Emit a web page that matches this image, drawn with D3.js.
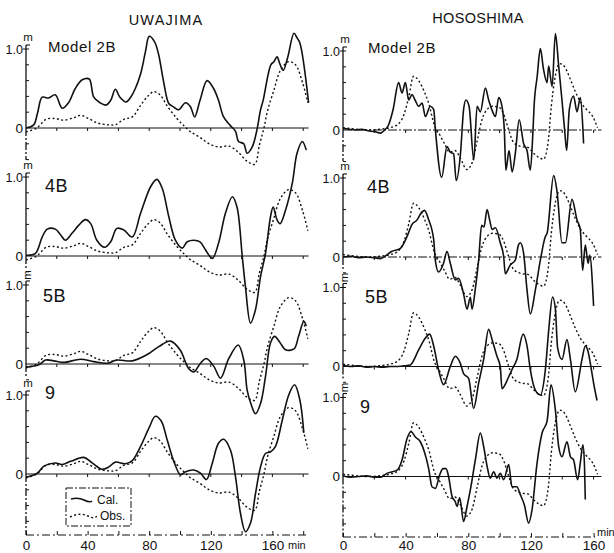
<!DOCTYPE html>
<html>
<head>
<meta charset="utf-8">
<script src="https://cdn.jsdelivr.net/npm/d3@7"></script>
<style>
  html, body { margin: 0; padding: 0; background: #fff; }
  svg { display: block; font-family: "Liberation Sans", Arial, sans-serif; }
</style>
</head>
<body>
<svg id="chart" width="614" height="553"></svg>
<script>
// Tide gauge records: [minutes, metres]
const stations = ["UWAJIMA", "HOSOSHIMA"];
const models = ["Model 2B", "4B", "5B", "9"];
const bottomTicks = [0, 40, 80, 120, 160];
const legendLabels = ["Cal.", "Obs."];

// Observed record at Uwajima (same in every model panel)
const uwaObs = [[0,-0.05],[7,0],[13,0.11],[19,0.12],[24.5,0.1],[31,0.13],[35.5,0.16],[40.5,0.12],[47,0.06],[54,0.04],[58,0.04],[63.5,0.11],[69,0.14],[74.5,0.29],[79.5,0.41],[83,0.46],[87,0.42],[92,0.27],[98,0.12],[103,0.02],[107,-0.05],[113,-0.12],[119,-0.2],[125,-0.24],[132,-0.23],[138,-0.31],[143.5,-0.42],[148.5,-0.46],[151.5,-0.22],[154.5,0],[157,0.23],[161,0.48],[165,0.72],[170.5,0.84],[175,0.8],[179.5,0.58],[183,0.32]];

// Computed records at Uwajima
const uwaCal2B = [[0,0],[5,0.04],[7.5,0.19],[10.5,0.39],[14.6,0.38],[19,0.42],[23.5,0.25],[27.6,0.32],[32,0.5],[36.5,0.61],[41,0.62],[44,0.39],[48,0.32],[52,0.29],[55,0.35],[58,0.49],[61,0.39],[65,0.33],[68,0.39],[71,0.5],[74.5,0.69],[77.6,0.97],[80,1.16],[83.5,1.09],[86,0.94],[89.5,0.57],[92.7,0.31],[95.6,0.27],[99,0.23],[103.6,0.32],[106.8,0.27],[109.5,0.14],[113,0.35],[117.6,0.6],[121.8,0.5],[125,0.35],[128.3,0.14],[132.7,0.03],[136,-0.04],[138,-0.17],[141.4,-0.2],[143.6,-0.32],[146.9,-0.24],[150,-0.02],[152.3,0.23],[154,0.35],[159,0.8],[161,0.84],[163,0.9],[164.7,0.82],[167,0.73],[170,0.9],[174,1.2],[176,1.14],[177.8,1.08],[183.5,0.32]];
const uwaCal4B = [[0,0.01],[6,0.03],[10.5,0.24],[13.8,0.34],[19,0.34],[22.4,0.27],[25.6,0.2],[30,0.29],[34.3,0.39],[38.6,0.46],[42,0.41],[46,0.2],[51,0.11],[55,0.18],[59,0.35],[63.5,0.33],[69,0.24],[74.4,0.54],[81,0.88],[85,0.97],[88.4,0.86],[92.7,0.5],[97,0.2],[101.4,0.1],[104.7,0.18],[109,0.2],[113,0.18],[116.5,0.08],[121,-0.03],[125,0.16],[129.5,0.54],[134,0.75],[137,0.62],[140.4,0],[142.5,-0.39],[145.8,-0.85],[149,-0.68],[152.3,-0.26],[155.5,0.03],[158.8,0.5],[160.5,0.62],[163,0.46],[165,0.41],[168.5,0.58],[172.9,0.92],[176,1.3],[179.4,1.45],[182,1.34]];
const uwaCal5B = [[0,-0.04],[8.3,-0.01],[12.7,0.05],[18,0.04],[24.5,0.02],[35.4,0.06],[44,0.03],[52.7,0.01],[59,0.05],[69,0.04],[78.7,0.12],[86.2,0.22],[93.8,0.29],[100,0.18],[105.7,-0.06],[109,-0.1],[113.3,0.01],[117,0.07],[122,-0.03],[126.3,-0.18],[131.7,0.07],[137.8,0.24],[141.4,0.05],[143.6,-0.33],[146,-0.5],[149,-0.63],[152.3,-0.5],[155.5,-0.16],[158.8,0.27],[161.4,0.35],[165,0.27],[168.5,0.18],[174,0.19],[177,0.35],[180.4,0.54],[182,0.48]];
const uwaCal9 = [[0,-0.04],[7.3,0.01],[11.6,0.1],[19,0.14],[23.5,0.12],[29,0.16],[37.5,0.21],[43,0.14],[49.5,0.06],[53.8,0.09],[58,0.15],[64.6,0.13],[69,0.17],[74.4,0.35],[79.8,0.58],[84,0.73],[87.8,0.67],[91.7,0.43],[96,0.16],[100.3,-0.01],[103.6,0.03],[109,0.05],[113.3,0.01],[117.2,-0.07],[121,0.14],[125,0.39],[128.4,0.44],[132.8,0.3],[136,-0.03],[139.3,-0.5],[142.5,-0.73],[145.8,-0.62],[149,-0.25],[152.3,0.09],[155.5,0.26],[158.8,0.28],[162,0.35],[166.4,0.68],[170.6,1.0],[174.4,1.13],[177.8,0.94],[180.4,0.52]];

// Observed record at Hososhima (same in every model panel)
const hosObs = [[0,0.03],[8,0.01],[16,0],[24,0.01],[30,0.03],[35,0.07],[39,0.2],[42,0.42],[45,0.68],[48.5,0.62],[52,0.48],[55,0.32],[58,0.08],[62,-0.07],[65,-0.18],[68,-0.28],[71.5,-0.26],[75,-0.36],[79,-0.5],[82.5,-0.41],[85.6,-0.14],[89,0.15],[92,0.26],[95.5,0.3],[99.5,0.29],[102.6,0.2],[105.5,0.02],[109,-0.16],[114,-0.21],[118,-0.22],[122,-0.3],[128,-0.37],[131,-0.15],[133,0.3],[135,0.62],[138.5,0.84],[141.5,0.8],[145,0.65],[148,0.5],[151.5,0.36],[155.5,0.26],[159.5,0.17],[162.5,0.03]];

// Computed records at Hososhima
const hosCal2B = [[0,0.02],[4,0.01],[8,0],[12,0.01],[16,-0.01],[20,-0.02],[24,-0.04],[26,-0.01],[29,0.06],[32,0.26],[35.5,0.6],[37.7,0.47],[39.8,0.6],[42,0.38],[44,0.45],[46,0.38],[48.3,0.3],[50.5,0.34],[52.6,0.17],[55.7,0.3],[57.9,0.26],[59,0],[63,-0.6],[66.4,-0.21],[68.5,-0.28],[70.6,-0.3],[72.3,-0.64],[75,-0.3],[77,0.26],[78.5,0.38],[80.5,0.3],[83.5,-0.38],[85.6,0.3],[87.7,0.23],[90.9,0.53],[93,0.38],[95,0.26],[97.3,0.17],[99.4,0.41],[101.5,0.3],[103,0],[104,-0.51],[106,-0.26],[108,-0.53],[110,-0.3],[112.5,0.13],[115.3,-0.17],[117.5,-0.26],[119.6,-0.51],[121.2,-0.05],[122,0.3],[124,0.68],[126,1.03],[128,0.77],[130.3,0.6],[131.3,0.81],[133.5,0.55],[135.6,1.22],[137.7,0.81],[139.8,0.38],[141.5,0],[142.8,-0.26],[144.5,0.26],[147.2,0.43],[149.4,0.23],[151.5,0.41],[153.2,0],[153.6,-0.17]];
const hosCal4B = [[0,0],[5,0.01],[10,-0.01],[15,0],[20,-0.01],[24,-0.02],[26,0],[31,0.07],[36.6,0.11],[40.9,0.26],[44,0.41],[47.3,0.47],[49.4,0.54],[52,0.59],[54.7,0.47],[57.9,0.22],[59,-0.05],[61,-0.19],[64.2,-0.08],[66.4,0.07],[68.5,-0.08],[71.7,-0.29],[73.8,-0.27],[77,-0.47],[79.2,-0.66],[81.3,-0.51],[82.4,-0.66],[84.5,-0.4],[86.6,-0.04],[88.5,0.4],[90,0.38],[92,0.6],[93.5,0.48],[95.2,0.35],[97.3,0.37],[100.4,0.18],[102.6,0],[103.6,-0.21],[106.8,-0.1],[110,-0.04],[112,0.15],[113.2,0.18],[115.3,0.05],[117.5,-0.42],[119.6,-0.72],[122.8,-0.42],[126,-0.04],[129.2,0.26],[130.3,0.3],[134.5,1.03],[136.7,0.82],[139.8,0.18],[142,0.18],[146.2,0.73],[149.4,0.47],[151.5,0.35],[153,-0.17],[154.7,0.15],[156.5,-0.08],[157.5,0.02],[160,-0.62]];
const hosCal5B = [[0,0.02],[5,0],[10,0.01],[15,-0.01],[20,0],[25,-0.01],[30,0],[35,0],[40,0.01],[43,0.02],[48.3,0.21],[52.6,0.36],[55.3,0.41],[57.9,0.26],[61,-0.04],[64.2,-0.23],[68.5,0],[71.7,0.13],[74.9,0.04],[77,-0.09],[80.2,-0.15],[83.4,-0.53],[86.6,-0.21],[89.8,0.09],[93,0.47],[95.2,0.34],[98.3,0.13],[100.4,0],[101.5,-0.28],[105.8,-0.13],[107.9,-0.04],[111,0.09],[115,0.41],[117.5,0.26],[119.6,-0.04],[122.8,-0.3],[126,-0.36],[129.2,-0.04],[131.3,0.45],[133.8,0.88],[135.6,0.73],[137,0.24],[139.8,0.09],[143,0.34],[145.2,0.09],[148.3,-0.32],[152.6,0.09],[154.7,0.26],[156.2,0.21],[159,-0.09],[160,-0.21],[162.2,-0.43]];
const hosCal9 = [[0,0.01],[5,-0.01],[10,0],[15,0.01],[20,-0.01],[24,-0.01],[28,0.04],[34.5,0.08],[37.7,0.21],[40.9,0.48],[43.4,0.57],[46.2,0.5],[49.4,0.44],[52,0.31],[54.7,0.1],[56.8,-0.13],[59,-0.15],[61.7,0.02],[63.9,0.1],[65.8,0.1],[67.4,0],[69.6,-0.25],[71.7,-0.32],[72.8,-0.38],[74.5,-0.27],[77,-0.57],[79.2,-0.38],[81.3,-0.17],[84.5,0.21],[87.7,0.55],[89.8,0.38],[92,0.13],[94,-0.02],[96.2,0.06],[98.3,-0.02],[100.4,0.04],[102.6,-0.04],[105.8,0.15],[107.9,-0.13],[111,-0.13],[113.2,-0.23],[115.8,-0.36],[118.5,-0.59],[120.7,-0.42],[123.9,0.17],[127.1,0.55],[130.3,0.7],[132.8,1.16],[135.6,0.84],[137.7,0.38],[139.8,0.25],[143,0.44],[145.2,0.25],[147.2,0.21],[149.8,-0.04],[151.5,0.17],[153.2,0.4],[154.2,0.13],[154.7,-0.29]];

// ---- layout ----
const svg = d3.select("#chart");
const pxPerMetre = 79;
const columns = [
  { title: stations[0], titleX: 166, titleY: 25, axisX: 26,
    x: d3.scaleLinear().domain([0, 180]).range([26, 303.2]), zeroEnd: 183.5,
    zeros: [128, 256, 364, 474], bottomY: 535, bottomPad: 5, bottomEnd: 182, lastTick: 180,
    calc: [uwaCal2B, uwaCal4B, uwaCal5B, uwaCal9], obs: uwaObs,
    curve: d3.curveCatmullRom.alpha(0.5),
    labelPos: [[48, 52], [45, 192], [43, 302], [45, 399]],
    labelSize: [15, 18, 18, 18], rotatedM: [false, false, true, false],
    zeroDash: [null, null, null, null], negTicks: [2, 1, 1, 3] },
  { title: stations[1], titleX: 478, titleY: 23, axisX: 343,
    x: d3.scaleLinear().domain([0, 160]).range([343, 593.6]), zeroEnd: 165,
    zeros: [130, 257, 366.5, 476.5], bottomY: 537, bottomPad: 3, bottomEnd: 161, lastTick: 160,
    calc: [hosCal2B, hosCal4B, hosCal5B, hosCal9], obs: hosObs,
    curve: d3.curveMonotoneX,
    labelPos: [[368, 53], [367, 193], [365, 303], [360, 413]],
    labelSize: [15, 18, 18, 18], rotatedM: [false, false, true, true],
    zeroDash: ["9,2,2,2", "9,2,2,2", null, null], negTicks: [2, 1, 1, 3] }
];

const ink = "#111";

columns.forEach(col => {
  const g = svg.append("g");
  const x = col.x;

  g.append("text").attr("x", col.titleX).attr("y", col.titleY)
    .attr("text-anchor", "middle").attr("font-size", 14.5)
    .attr("letter-spacing", col.title === "UWAJIMA" ? 1.2 : 0.3)
    .attr("fill", ink).text(col.title);

  col.zeros.forEach((z, i) => {
    const y = d3.scaleLinear().domain([0, 1]).range([z, z - pxPerMetre]);
    const pg = g.append("g");
    const nextTop = i < 3 ? (col.zeros[i + 1] - pxPerMetre) - 17 : col.bottomY;

    // vertical axis: solid above zero, dash-dot below
    pg.append("line").attr("x1", col.axisX).attr("x2", col.axisX)
      .attr("y1", y(1) - 4).attr("y2", y(0))
      .attr("stroke", ink).attr("stroke-width", 1.3);
    pg.append("line").attr("x1", col.axisX).attr("x2", col.axisX)
      .attr("y1", y(0)).attr("y2", nextTop)
      .attr("stroke", ink).attr("stroke-width", 1.3)
      .attr("stroke-dasharray", "8,2,2,2");
    pg.append("line").attr("x1", col.axisX).attr("x2", col.axisX + 4)
      .attr("y1", y(1) - 4).attr("y2", y(1) - 4)
      .attr("stroke", ink).attr("stroke-width", 1.1);

    // 0.2 m ticks
    const ticks = d3.range(-col.negTicks[i], 6).map(k => k * 0.2).filter(v => Math.abs(v) > 1e-6);
    pg.selectAll(".yt").data(ticks).enter().append("line")
      .attr("x1", d => Math.abs(d - 1) < 1e-6 ? col.axisX - 3 : col.axisX)
      .attr("x2", col.axisX + 3)
      .attr("y1", d => y(d)).attr("y2", d => y(d))
      .attr("stroke", ink).attr("stroke-width", 1);

    pg.append("text").attr("x", col.axisX - 3).attr("y", y(1) + 4.5)
      .attr("text-anchor", "end").attr("font-size", 12.5).attr("fill", ink).text("1.0");
    pg.append("text").attr("x", col.axisX - 3).attr("y", y(0) + 4.5)
      .attr("text-anchor", "end").attr("font-size", 13.5).attr("fill", ink).text("0");
    const mx = col.axisX + 2, my = y(1) - 8;
    const m = pg.append("text").attr("font-size", 11.5).attr("fill", ink).text("m");
    if (col.rotatedM[i]) {
      m.attr("text-anchor", "middle").attr("transform", `translate(${mx - 1},${my - 2}) rotate(-90)`).attr("dy", 4);
    } else {
      m.attr("x", mx).attr("y", my).attr("text-anchor", "middle");
    }

    // zero line with 20-minute ticks
    pg.append("line").attr("x1", col.axisX).attr("x2", x(col.zeroEnd))
      .attr("y1", y(0)).attr("y2", y(0))
      .attr("stroke", ink).attr("stroke-width", 1.2)
      .attr("stroke-dasharray", col.zeroDash[i]);
    pg.selectAll(".zt").data(d3.range(20, col.lastTick + 1, 20)).enter().append("line")
      .attr("x1", d => x(d)).attr("x2", d => x(d))
      .attr("y1", y(0)).attr("y2", y(0) + 3)
      .attr("stroke", ink).attr("stroke-width", 1);

    // panel label
    pg.append("text").attr("x", col.labelPos[i][0]).attr("y", col.labelPos[i][1])
      .attr("font-size", col.labelSize[i]).attr("fill", ink)
      .attr("letter-spacing", i === 0 ? 0.6 : 0.5).text(models[i]);

    const line = d3.line().x(d => x(d[0])).y(d => y(d[1])).curve(col.curve);
    pg.append("path").attr("d", line(col.obs))
      .attr("fill", "none").attr("stroke", ink).attr("stroke-width", 1.4)
      .attr("stroke-dasharray", "2,2.4");
    pg.append("path").attr("d", line(col.calc[i]))
      .attr("fill", "none").attr("stroke", ink).attr("stroke-width", 1.6)
      .attr("stroke-linejoin", "round");
  });

  // time axis
  const axis = d3.axisBottom(x)
    .tickValues(d3.range(0, col.lastTick + 1, 20))
    .tickSize(-4).tickPadding(col.bottomPad)
    .tickFormat(d => bottomTicks.includes(d) ? d : "");
  const ag = g.append("g").attr("transform", `translate(0,${col.bottomY})`).call(axis);
  ag.select(".domain").attr("d", `M${col.axisX},0H${x(col.bottomEnd)}`)
    .attr("stroke", ink).attr("stroke-width", 1.2).attr("stroke-dasharray", "8,3,2,3");
  ag.selectAll(".tick line").attr("stroke", ink);
  ag.selectAll(".tick text").attr("font-size", 13.5).attr("fill", ink)
    .attr("font-family", "Liberation Sans, Arial, sans-serif");
});

// unit label on the time axes
svg.append("text").attr("x", 288).attr("y", 549).attr("font-size", 11).attr("fill", ink).text("min");
svg.append("text").attr("x", 597).attr("y", 536).attr("font-size", 11).attr("fill", ink).text("min");

// legend
const lg = svg.append("g");
lg.append("rect").attr("x", 66).attr("y", 488).attr("width", 65).attr("height", 38)
  .attr("fill", "#fff").attr("stroke", ink).attr("stroke-width", 1)
  .attr("stroke-dasharray", "7,2,2,2");
lg.append("path").attr("d", "M71,499 Q78,497 84,500 T92,501")
  .attr("fill", "none").attr("stroke", ink).attr("stroke-width", 1.6);
lg.append("path").attr("d", "M70,517 Q80,512 88,516 T97,515")
  .attr("fill", "none").attr("stroke", ink).attr("stroke-width", 1.4).attr("stroke-dasharray", "2,2.4");
lg.append("text").attr("x", 97).attr("y", 504).attr("font-size", 12).attr("fill", ink).text(legendLabels[0]);
lg.append("text").attr("x", 100).attr("y", 520).attr("font-size", 12).attr("fill", ink).text(legendLabels[1]);
</script>
</body>
</html>
